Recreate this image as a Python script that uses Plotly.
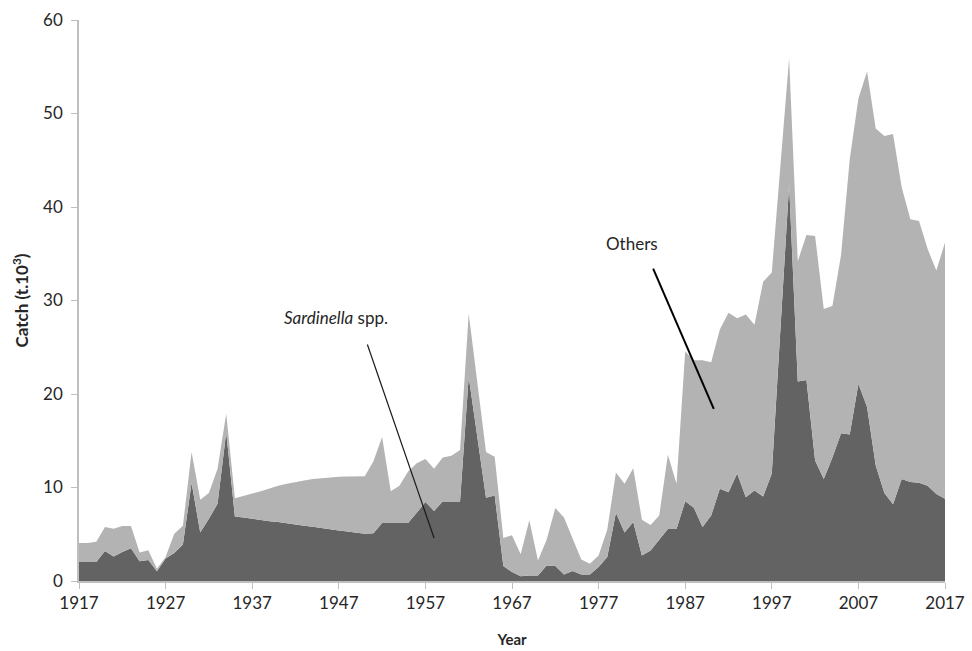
import plotly.graph_objects as go

# Annual catch, thousands of tonnes
years = list(range(1917, 2018))

sardinella = [
    2.03, 2.03, 2.03, 3.2, 2.63, 3.1, 3.5, 2.1, 2.24, 1.03,      # 1917-1926
    2.4, 3.0, 3.9, 10.5, 5.2, 6.65, 8.26, 15.9, 6.9, 6.8,        # 1927-1936
    6.65, 6.5, 6.4, 6.3, 6.15, 6.0, 5.9, 5.8, 5.65, 5.55,        # 1937-1946
    5.4, 5.3, 5.15, 5.05, 5.1, 6.2, 6.2, 6.2, 6.2, 7.3,          # 1947-1956
    8.45, 7.5, 8.5, 8.5, 8.5, 21.85, 15.4, 8.9, 9.15, 1.6,       # 1957-1966
    0.96, 0.5, 0.6, 0.6, 1.67, 1.6, 0.7, 1.07, 0.7, 0.7,         # 1967-1976
    1.5, 2.56, 7.3, 5.2, 6.3, 2.74, 3.27, 4.4, 5.55, 5.55,       # 1977-1986
    8.54, 7.83, 5.77, 7.0, 9.86, 9.5, 11.5, 8.97, 9.68, 9.04,    # 1987-1996
    11.5, 27.0, 42.4, 21.35, 21.5, 12.9, 10.9, 13.2, 15.8, 15.66,  # 1997-2006
    21.1, 18.6, 12.35, 9.4, 8.2, 10.9, 10.6, 10.5, 10.2, 9.3,    # 2007-2016
    8.8,                                                         # 2017
]

others = [
    2.03, 2.03, 2.17, 2.57, 2.97, 2.77, 2.37, 0.96, 1.06, 0.27,  # 1917-1926
    0.16, 2.05, 2.0, 3.3, 3.5, 2.75, 3.74, 2.0, 1.96, 2.3,       # 1927-1936
    2.65, 3.1, 3.5, 3.9, 4.25, 4.6, 4.85, 5.1, 5.35, 5.52,       # 1937-1946
    5.74, 5.87, 6.05, 6.15, 7.7, 9.2, 3.4, 4.0, 5.5, 5.3,        # 1947-1956
    4.61, 4.5, 4.7, 4.9, 5.5, 6.75, 5.8, 4.9, 4.15, 3.0,         # 1957-1966
    3.94, 2.35, 5.9, 1.6, 2.73, 6.2, 6.1, 3.43, 1.6, 1.15,       # 1967-1976
    1.24, 2.94, 4.3, 5.2, 5.76, 3.81, 2.73, 2.6, 7.95, 4.85,     # 1977-1986
    16.01, 15.77, 17.83, 16.4, 17.04, 19.2, 16.6, 19.53, 17.72, 22.96,  # 1987-1996
    21.5, 17.5, 13.5, 12.85, 15.5, 24.0, 18.2, 16.2, 19.1, 29.44,  # 1997-2006
    30.5, 35.9, 36.05, 38.2, 39.6, 31.2, 28.1, 28.0, 25.3, 23.9,   # 2007-2016
    27.4,                                                          # 2017
]

x_ticks = list(range(1917, 2018, 10))
y_ticks = list(range(0, 61, 10))

FONT = "Lato, 'Open Sans', sans-serif"
TEXT = "#262626"

fig = go.Figure()
fig.add_trace(go.Scatter(
    x=years, y=sardinella, name="Sardinella spp.",
    mode="lines", line=dict(width=0, color="#636363"),
    fillcolor="#636363", stackgroup="catch",
))
fig.add_trace(go.Scatter(
    x=years, y=others, name="Others",
    mode="lines", line=dict(width=0, color="#b3b3b3"),
    fillcolor="#b3b3b3", stackgroup="catch",
))

# Leader lines pointing to each layer
fig.add_shape(type="line", xref="x", yref="y",
              x0=1950.3, y0=25.3, x1=1958.0, y1=4.6,
              line=dict(color="#1a1a1a", width=1.2))
fig.add_shape(type="line", xref="x", yref="y",
              x0=1983.3, y0=33.4, x1=1990.3, y1=18.4,
              line=dict(color="#000000", width=2))

fig.add_annotation(x=1946.7, y=28.2, xref="x", yref="y",
                   text="<i>Sardinella</i> spp.", showarrow=False,
                   font=dict(family=FONT, size=17, color=TEXT))
fig.add_annotation(x=1980.9, y=36.1, xref="x", yref="y",
                   text="Others", showarrow=False,
                   font=dict(family=FONT, size=17, color=TEXT))

fig.update_layout(
    width=972, height=651,
    margin=dict(l=79, r=27, t=20, b=70, autoexpand=False),
    plot_bgcolor="white", paper_bgcolor="white",
    showlegend=False,
    font=dict(family=FONT, size=17, color=TEXT),
)
fig.update_xaxes(
    range=[1917, 2017], tickvals=x_ticks, ticktext=[str(t) for t in x_ticks],
    showgrid=False, zeroline=False,
    showline=True, linecolor="#bfbfbf", linewidth=1.5,
    ticks="outside", ticklen=6, tickcolor="#bfbfbf",
    tickfont=dict(family=FONT, size=17, color=TEXT),
    title=dict(text="<b>Year</b>", font=dict(family=FONT, size=15, color=TEXT), standoff=22),
)
fig.update_yaxes(
    range=[0, 60], tickvals=y_ticks,
    showgrid=False, zeroline=False,
    showline=True, linecolor="#bfbfbf", linewidth=1.5,
    ticks="outside", ticklen=6, tickcolor="#bfbfbf", ticklabelstandoff=5,
    tickfont=dict(family=FONT, size=17, color=TEXT),
    title=dict(text="<b>Catch (t.10<sup>3</sup>)</b>", font=dict(family=FONT, size=17, color=TEXT), standoff=10),
)

fig.write_html("out.html")
